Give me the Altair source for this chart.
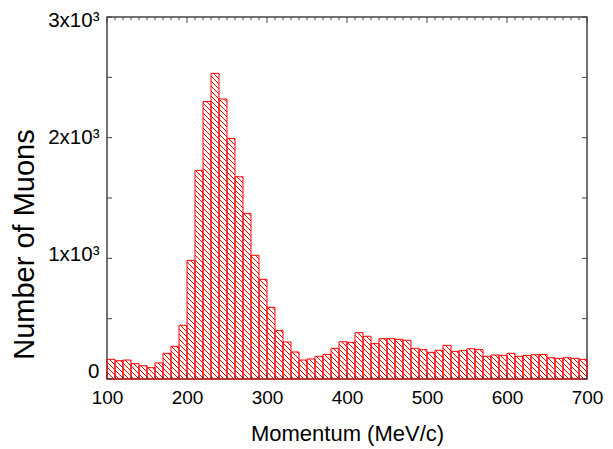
import altair as alt
import pandas as pd
import numpy as np

# Momentum histogram: 10 MeV/c bins from 100 to 700 MeV/c
bin_lo = list(range(100, 700, 10))
counts = [
    163, 152, 157, 127, 110, 94, 133, 213, 271, 445,
    983, 1729, 2300, 2533, 2320, 1994, 1676, 1373, 1025, 826,
    594, 403, 307, 224, 157, 166, 188, 204, 254, 309,
    304, 384, 354, 293, 334, 334, 329, 321, 254, 243,
    221, 238, 279, 229, 235, 251, 243, 188, 199, 196,
    213, 188, 196, 201, 204, 176, 171, 176, 171, 163,
]
x_ticks = [100, 200, 300, 400, 500, 600, 700]
y_ticks = [0, 1000, 2000, 3000]

X_MIN, X_MAX = 100, 700
Y_MIN, Y_MAX = 0, 3000
W, H = 480, 362
FONT = "Liberation Sans"
RED = "#ff0000"
FRAME = "#444444"

bars = pd.DataFrame({"lo": bin_lo, "hi": [b + 10 for b in bin_lo], "n": counts})

# diagonal hatch segments ("\" direction) clipped to each bar
sx = W / (X_MAX - X_MIN)
sy = H / (Y_MAX - Y_MIN)
period = 5.0
segs = []
for lo, n in zip(bin_lo, counts):
    x0 = (lo - X_MIN) * sx
    x1 = x0 + 10 * sx
    yt = H - n * sy
    yb = H
    jmin = int(np.floor((yt - x1) / period)) - 1
    jmax = int(np.ceil((yb - x0) / period)) + 1
    for j in range(jmin, jmax + 1):
        c0 = j * period
        a = max(x0, yt - c0)
        b = min(x1, yb - c0)
        if b - a > 0.3:
            segs.append({
                "m1": X_MIN + a / sx, "n1": (H - (a + c0)) / sy,
                "m2": X_MIN + b / sx, "n2": (H - (b + c0)) / sy,
            })
hatch = pd.DataFrame(segs)

xs = alt.Scale(domain=[X_MIN, X_MAX], nice=False)
ys = alt.Scale(domain=[Y_MIN, Y_MAX], nice=False)

x_axis = alt.Axis(
    values=x_ticks, format="d", grid=False, domain=False, ticks=False,
    labelFont=FONT, labelFontSize=19, labelColor="black", labelPadding=9,
    labelFlush=False, title="Momentum (MeV/c)", titleFont=FONT,
    titleFontSize=22, titleFontWeight="normal", titleColor="black",
    titleY=61, titleBaseline="alphabetic",
)
y_axis = alt.Axis(
    values=y_ticks, grid=False, domain=False, ticks=False,
    labelExpr="datum.value == 0 ? '0' : (datum.value / 1000) + 'x10³'",
    labelFont=FONT, labelFontSize=20.5, labelColor="black", labelPadding=8,
    labelFlush=False,
    labelOffset={"expr": "datum.value == 0 ? -8 : datum.value == 1000 ? -4 : datum.value == 3000 ? 3 : 0"},
    title="Number of Muons", titleFont=FONT, titleFontSize=29,
    titleFontWeight="normal", titleColor="black", titleAngle=270,
    titleX=-83, titleY=227, titleAlign="center", titleBaseline="middle",
)

hatch_layer = alt.Chart(hatch).mark_rule(color=RED, strokeWidth=1).encode(
    x=alt.X("m1:Q", scale=xs, axis=x_axis),
    y=alt.Y("n1:Q", scale=ys, axis=y_axis),
    x2="m2:Q",
    y2="n2:Q",
)

outline = alt.Chart(bars).mark_rect(
    fillOpacity=0, stroke=RED, strokeWidth=1
).encode(
    x=alt.X("lo:Q", scale=xs),
    x2="hi:Q",
    y=alt.Y("n:Q", scale=ys),
    y2=alt.datum(0),
)

# inward tick marks on all four sides
ytick_df = pd.DataFrame({"v": list(range(0, 3001, 500))})
xminor_df = pd.DataFrame({"v": [v for v in range(100, 701, 10) if v % 100]})
xmajor_df = pd.DataFrame({"v": x_ticks})


def rule(df, chan, a, b):
    enc = {"x": alt.X("v:Q", scale=xs)} if chan == "x" else {"y": alt.Y("v:Q", scale=ys)}
    other = "y" if chan == "x" else "x"
    enc[other] = alt.value(a)
    enc[other + "2"] = alt.value(b)
    return alt.Chart(df).mark_rule(color=FRAME, strokeWidth=1).encode(**enc)


tick_layers = [
    rule(ytick_df, "y", 0, 5),
    rule(ytick_df, "y", W - 5, W),
    rule(xminor_df, "x", H - 3, H),
    rule(xminor_df, "x", 0, 3),
    rule(xmajor_df, "x", H - 6, H),
    rule(xmajor_df, "x", 0, 6),
]

chart = alt.layer(hatch_layer, outline, *tick_layers).properties(
    width=W, height=H,
    autosize=alt.AutoSizeParams(type="none"),
    padding={"left": 107, "top": 17, "right": 26, "bottom": 70},
    background="white",
).configure_view(stroke=FRAME, strokeWidth=1.5)

chart.save("out.html", embed_options={"renderer": "svg", "actions": False})
